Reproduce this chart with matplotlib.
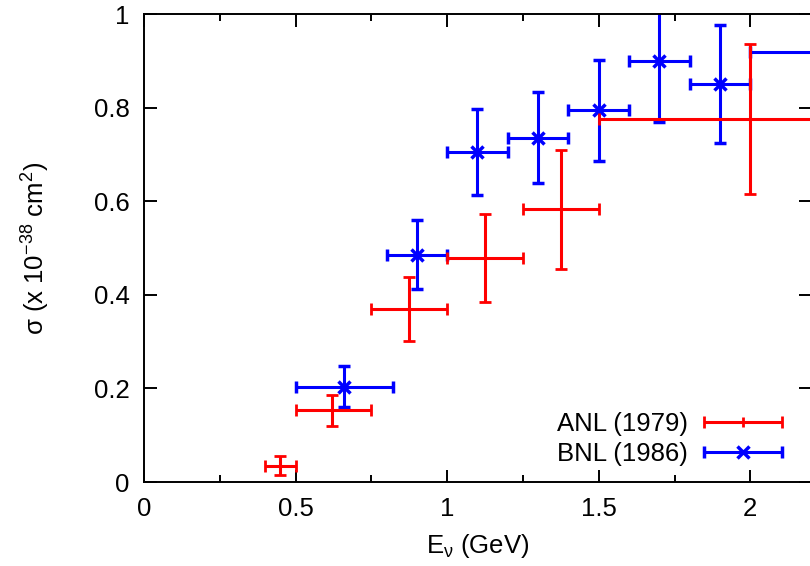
#!/usr/bin/env python
# -*- coding: utf-8 -*-

import matplotlib
matplotlib.use('Agg')

from matplotlib import pyplot as plt
from matplotlib.container import ErrorbarContainer
from matplotlib.legend_handler import HandlerErrorbar

# ANL (1979)
anl_e = [0.45, 0.62, 0.875, 1.125, 1.375, 2.0]
anl_elo = [0.40, 0.50, 0.75, 1.00, 1.25, 1.50]
anl_ehi = [0.50, 0.75, 1.00, 1.25, 1.50, 2.50]
anl_sigma = [0.035, 0.153, 0.369, 0.479, 0.583, 0.775]
anl_err = [0.020, 0.033, 0.068, 0.094, 0.127, 0.160]

# BNL (1986)
bnl_e = [0.66, 0.90, 1.10, 1.30, 1.50, 1.70, 1.90, 2.30]
bnl_elo = [0.50, 0.80, 1.00, 1.20, 1.40, 1.60, 1.80, 2.00]
bnl_ehi = [0.82, 1.00, 1.20, 1.40, 1.60, 1.80, 2.00, 2.60]
bnl_sigma = [0.204, 0.486, 0.705, 0.736, 0.794, 0.900, 0.851, 0.918]
bnl_err = [0.044, 0.073, 0.092, 0.098, 0.108, 0.131, 0.126, 0.120]


def xerr_of(x, lo, hi):
    return [[a - b for a, b in zip(x, lo)], [b - a for a, b in zip(x, hi)]]


def plot_sigma():

    plt.rcParams['font.family'] = ['Liberation Sans', 'DejaVu Sans']
    plt.rcParams['mathtext.fontset'] = 'custom'
    plt.rcParams['mathtext.rm'] = 'Liberation Sans'
    plt.rcParams['mathtext.default'] = 'regular'

    fig = plt.figure(figsize=(8.1, 5.66), dpi=100)
    ax = fig.add_axes([144 / 810, 84 / 566, 667 / 810, 468 / 566])

    fs = 18.5
    lw = 2.2

    bnl = ax.errorbar(bnl_e, bnl_sigma, xerr=xerr_of(bnl_e, bnl_elo, bnl_ehi), yerr=bnl_err,
                      fmt='x', color='#0000ff', ms=8.5, mew=2.5, elinewidth=lw,
                      capsize=4.5, capthick=lw, zorder=2)
    anl = ax.errorbar(anl_e, anl_sigma, xerr=xerr_of(anl_e, anl_elo, anl_ehi), yerr=anl_err,
                      fmt='+', color='#ff0000', ms=7, mew=2.0, elinewidth=lw,
                      capsize=4.5, capthick=lw, zorder=3)

    ax.set_xlim(0, 2.2)
    ax.set_ylim(0, 1)
    ax.set_xticks([0, 0.5, 1, 1.5, 2])
    ax.set_xticklabels(['0', '0.5', '1', '1.5', '2'])
    ax.set_xticks([0.25, 0.75, 1.25, 1.75], minor=True)
    ax.set_yticks([0, 0.2, 0.4, 0.6, 0.8, 1])
    ax.set_yticklabels(['0', '0.2', '0.4', '0.6', '0.8', '1'])

    ax.tick_params(axis='both', which='both', direction='in', top=True, right=True,
                   labelsize=fs, color='#000000', pad=10.5)
    ax.tick_params(which='major', length=9, width=1.4)
    ax.tick_params(which='minor', length=5, width=1.4)
    for s in ax.spines.values():
        s.set_linewidth(1.4)

    ax.set_xlabel('E$_{ν}$ (GeV)', fontsize=fs, labelpad=8)
    ax.set_ylabel('σ (x 10$^{-38}$ cm$^{2}$)', fontsize=fs)
    ax.yaxis.set_label_coords(-0.138, 0.5)

    # legend shows only the horizontal bars, like gnuplot does
    handles = []
    for c, name in ((anl, 'ANL (1979)'), (bnl, 'BNL (1986)')):
        handles.append(ErrorbarContainer(c.lines, has_xerr=True, has_yerr=False, label=name))
    ax.legend(handles=handles, loc='lower right', bbox_to_anchor=(0.957, 0.034),
              frameon=False, markerfirst=False, fontsize=fs, handlelength=3.03,
              handletextpad=0.66, labelspacing=0.24, borderpad=0, borderaxespad=0,
              handler_map={ErrorbarContainer: HandlerErrorbar(xerr_size=1.52)})

    fig.savefig('out.png', dpi=100)
    return 0


def main():
    plot_sigma()


if __name__ == "__main__":
    main()
